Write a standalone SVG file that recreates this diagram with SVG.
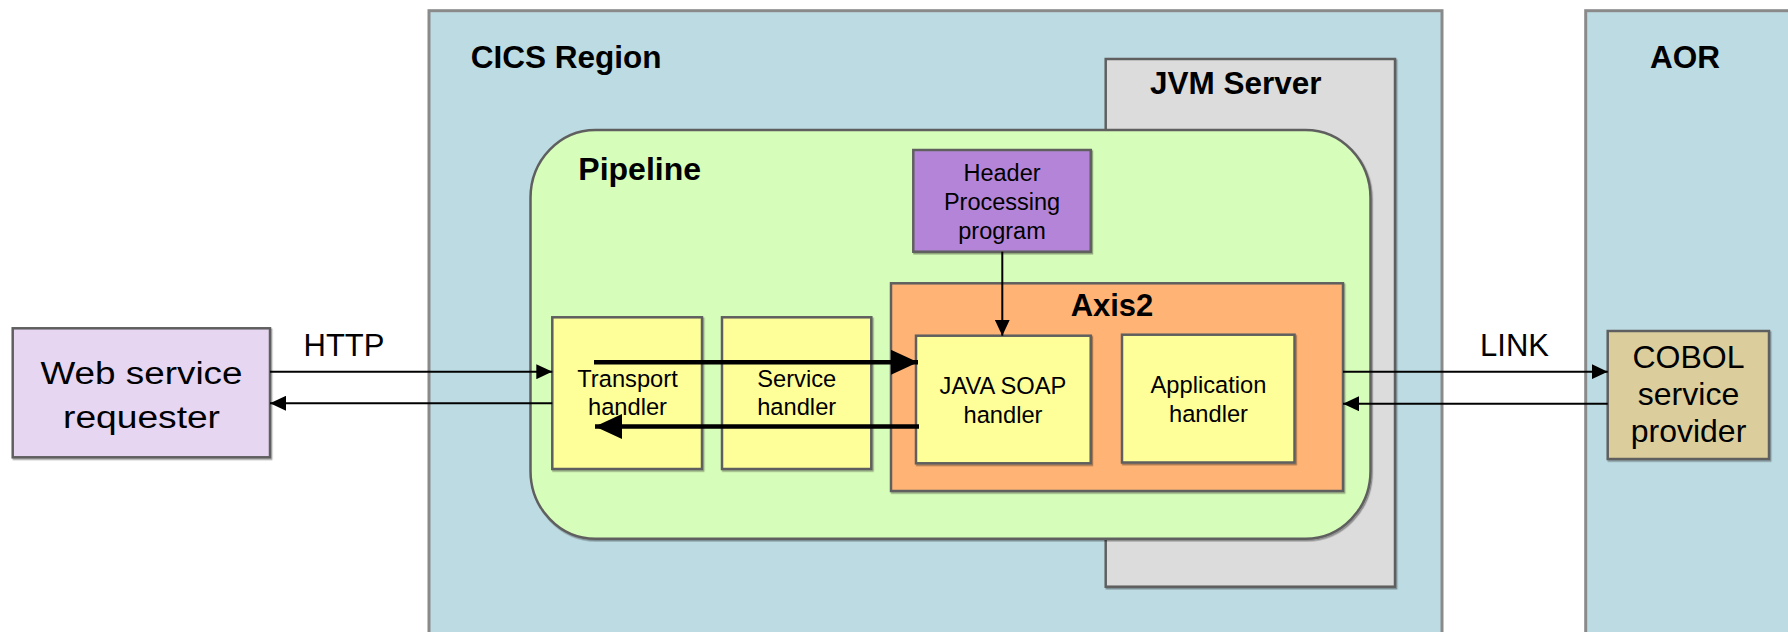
<svg xmlns="http://www.w3.org/2000/svg" width="1788" height="632" viewBox="0 0 1788 632">
<style>
  .box { stroke: #5f5f5f; stroke-width: 2.5; filter: url(#sh); }
  .region { fill: #bddbe3; stroke: #8a8a8a; stroke-width: 3; }
  .t { font-family: "Liberation Sans", Arial, sans-serif; fill: #000; text-anchor: middle; }
  .b { font-family: "Liberation Sans", Arial, sans-serif; font-weight: bold; fill: #000; }
  .thin { stroke: #000; stroke-width: 2; fill: none; }
  .thick { stroke: #000; stroke-width: 4.5; fill: none; }
  .yel { fill: #ffff99; }
</style>
<defs>
  <filter id="sh" x="-5%" y="-5%" width="110%" height="110%">
    <feDropShadow dx="1.2" dy="1.5" stdDeviation="0.6" flood-color="#000" flood-opacity="0.35"/>
  </filter>
  <marker id="ah" markerUnits="userSpaceOnUse" markerWidth="16" markerHeight="15" viewBox="0 0 16 15" refX="16" refY="7.5" orient="auto">
    <path d="M0,0 L16,7.5 L0,15 z" fill="#000"/>
  </marker>
  <marker id="ahb" markerUnits="userSpaceOnUse" markerWidth="27" markerHeight="25" viewBox="0 0 27 25" refX="27" refY="12.5" orient="auto">
    <path d="M0,0 L27,12.5 L0,25 z" fill="#000"/>
  </marker>
</defs>
<rect width="1788" height="632" fill="#ffffff"/>

<g id="cics-region">
  <rect class="region" x="429" y="10.7" width="1013" height="640"/>
  <text class="b" x="470.7" y="67.7" font-size="31.5">CICS Region</text>
</g>
<g id="aor">
  <rect class="region" x="1585.7" y="10.7" width="220" height="640"/>
  <text class="b" x="1685" y="67.7" font-size="31.5" text-anchor="middle">AOR</text>
</g>
<g id="jvm-server">
  <rect class="box" x="1105.7" y="59" width="289.3" height="527.7" fill="#dcdcdc"/>
  <text class="b" x="1150" y="94.3" font-size="31.5">JVM Server</text>
</g>
<g id="pipeline">
  <rect class="box" x="530.5" y="130" width="840" height="408.7" rx="65" ry="68" fill="#d7fdba"/>
  <text class="b" x="578.3" y="180" font-size="32">Pipeline</text>
</g>
<g id="header-processing">
  <rect class="box" x="913.3" y="150" width="177.4" height="101.7" fill="#b484d9"/>
  <text class="t" font-size="23.5"><tspan x="1002" y="181">Header</tspan><tspan x="1002" y="210">Processing</tspan><tspan x="1002" y="239">program</tspan></text>
</g>
<g id="axis2">
  <rect class="box" x="891" y="283.3" width="452" height="207.7" fill="#ffb476"/>
  <text class="b" x="1112" y="315.7" font-size="31" text-anchor="middle">Axis2</text>
</g>
<g id="transport-handler">
  <rect class="box yel" x="552.3" y="317.3" width="149.7" height="151.7"/>
  <text class="t" font-size="23.7"><tspan x="627.5" y="387">Transport</tspan><tspan x="627.5" y="415">handler</tspan></text>
</g>
<g id="service-handler">
  <rect class="box yel" x="722" y="317.3" width="149.3" height="151.7"/>
  <text class="t" font-size="23.7"><tspan x="796.7" y="387">Service</tspan><tspan x="796.7" y="415">handler</tspan></text>
</g>
<g id="java-soap-handler">
  <rect class="box yel" x="916" y="335.7" width="174.7" height="127.6"/>
  <text class="t" font-size="23.7"><tspan x="1003" y="394">JAVA SOAP</tspan><tspan x="1003" y="423">handler</tspan></text>
</g>
<g id="application-handler">
  <rect class="box yel" x="1122" y="334.7" width="172.5" height="127.8"/>
  <text class="t" font-size="23.7"><tspan x="1208.5" y="393">Application</tspan><tspan x="1208.5" y="422">handler</tspan></text>
</g>
<g id="web-service-requester">
  <rect class="box" x="12.7" y="328.3" width="257.3" height="129" fill="#e6d6f2"/>
  <text class="t" font-size="31"><tspan x="141.5" y="384" textLength="202" lengthAdjust="spacingAndGlyphs">Web service</tspan><tspan x="141.5" y="428" textLength="157" lengthAdjust="spacingAndGlyphs">requester</tspan></text>
</g>
<g id="cobol-service-provider">
  <rect class="box" x="1607.7" y="331" width="161.3" height="128" fill="#dbce9c"/>
  <text class="t" font-size="32"><tspan x="1688.5" y="368">COBOL</tspan><tspan x="1688.5" y="405">service</tspan><tspan x="1688.5" y="442">provider</tspan></text>
</g>

<g id="connectors">
  <line class="thin" x1="270" y1="371.7" x2="552.3" y2="371.7" marker-end="url(#ah)"/>
  <line class="thin" x1="552.3" y1="403.3" x2="270" y2="403.3" marker-end="url(#ah)"/>
  <line class="thick" x1="594" y1="362.3" x2="918" y2="362.3" marker-end="url(#ahb)"/>
  <line class="thick" x1="919" y1="426.5" x2="595" y2="426.5" marker-end="url(#ahb)"/>
  <line class="thin" x1="1002.3" y1="251.7" x2="1002.3" y2="335.7" marker-end="url(#ah)"/>
  <line class="thin" x1="1343" y1="371.7" x2="1607.7" y2="371.7" marker-end="url(#ah)"/>
  <line class="thin" x1="1607.7" y1="403.7" x2="1343" y2="403.7" marker-end="url(#ah)"/>
  <text class="t" x="344" y="356" font-size="31">HTTP</text>
  <text class="t" x="1514.5" y="356" font-size="31">LINK</text>
</g>
</svg>
